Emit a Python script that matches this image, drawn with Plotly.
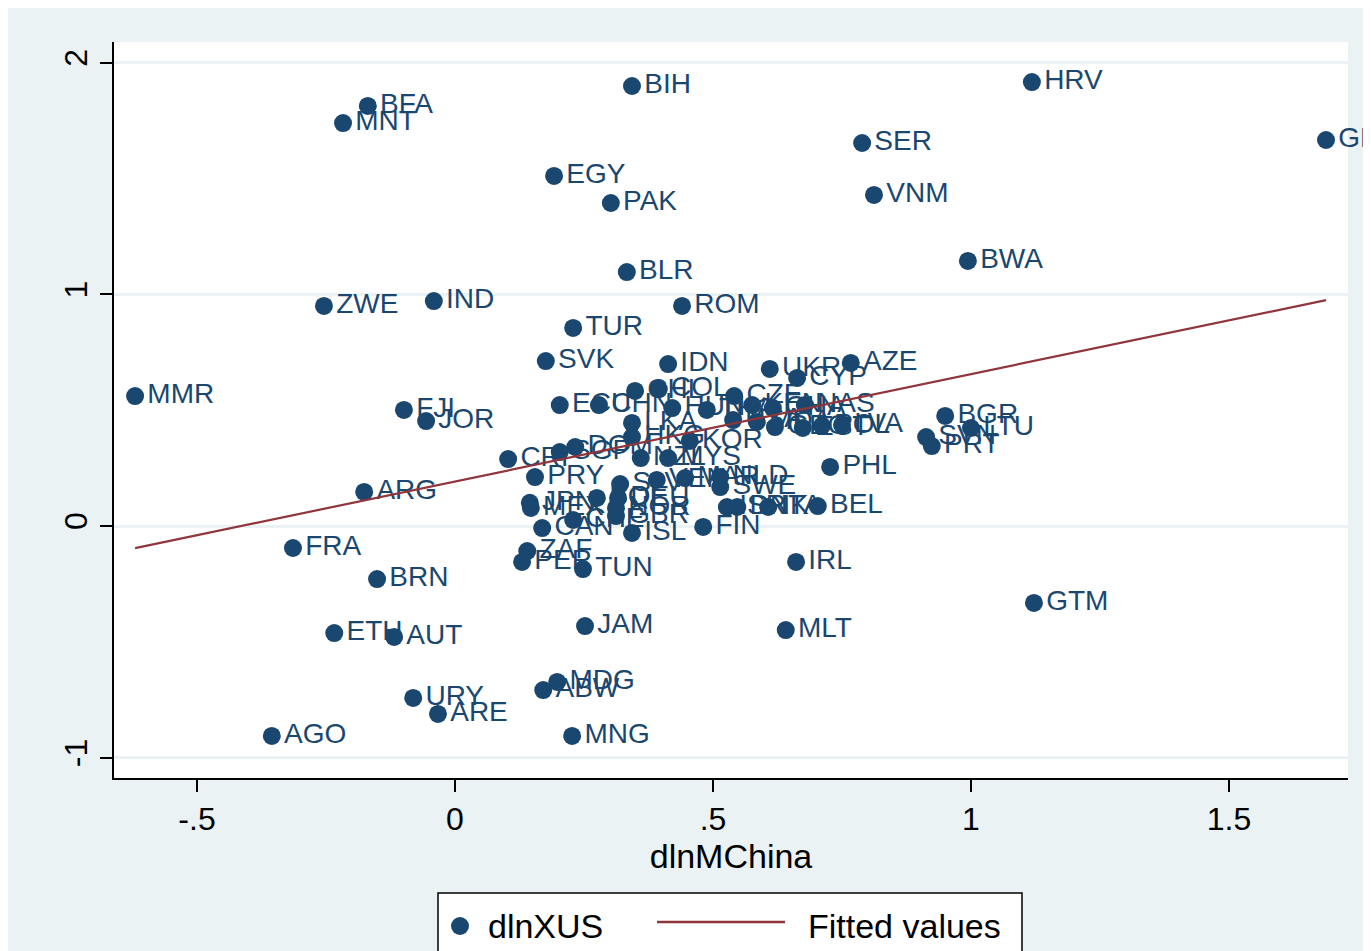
import plotly.graph_objects as go

countries = ["BFA","MNT","BIH","HRV","GRC","SER","EGY","PAK","VNM","BWA",
             "BLR","ZWE","IND","ROM","TUR","SVK","IDN","UKR","AZE","CYP",
             "MMR","FJI","JOR","ECU","CHN","CHL","COL","HUN","THA","CZE",
             "KEN","GHA","NAS","USA","MDA","GEO","EST","POL","LVA","LKA",
             "HKG","KOR","SGP","DOM","CRI","NZL","MYS","PRY","SLV","VEN",
             "MAR","NLD","SWE","JPN","MEX","BOL","DEU","NOR","GBR","CHE",
             "CAN","ISL","FIN","ISR","DNK","ITA","BEL","PHL","BGR","SVN",
             "PRT","LTU","ARG","FRA","BRN","ZAF","PER","TUN","IRL","GTM",
             "JAM","MLT","ETH","AUT","MDG","ABW","URY","ARE","AGO","MNG"]

dlnMChina = [-0.169,-0.217,0.343,1.118,1.688,0.789,0.192,0.302,0.812,0.994,
             0.333,-0.254,-0.041,0.440,0.229,0.176,0.413,0.610,0.767,0.663,
             -0.620,-0.099,-0.056,0.203,0.279,0.349,0.395,0.421,0.488,0.541,
             0.576,0.616,0.678,0.539,0.585,0.620,0.674,0.711,0.750,0.343,
             0.343,0.455,0.203,0.233,0.103,0.360,0.413,0.155,0.320,0.391,
             0.446,0.514,0.514,0.145,0.147,0.275,0.316,0.312,0.312,0.229,
             0.169,0.343,0.481,0.527,0.547,0.607,0.703,0.727,0.950,0.913,
             0.924,1.000,-0.176,-0.314,-0.151,0.140,0.130,0.248,0.661,1.122,
             0.252,0.641,-0.234,-0.118,0.198,0.171,-0.081,-0.033,-0.355,0.227]

dlnXUS = [1.813,1.739,1.899,1.916,1.666,1.653,1.511,1.394,1.429,1.144,
          1.096,0.950,0.971,0.950,0.855,0.712,0.699,0.678,0.704,0.639,
          0.561,0.501,0.453,0.522,0.522,0.583,0.591,0.509,0.501,0.561,
          0.522,0.509,0.522,0.457,0.449,0.427,0.423,0.432,0.436,0.445,
          0.384,0.367,0.319,0.341,0.289,0.293,0.293,0.211,0.181,0.199,
          0.207,0.211,0.168,0.100,0.078,0.121,0.121,0.078,0.043,0.026,
          -0.009,-0.030,-0.004,0.082,0.082,0.082,0.086,0.255,0.475,0.384,
          0.345,0.423,0.147,-0.095,-0.229,-0.108,-0.155,-0.186,-0.155,-0.332,
          -0.432,-0.449,-0.462,-0.479,-0.673,-0.708,-0.742,-0.811,-0.906,-0.906]

fit_intercept = 0.192
fit_slope = 0.4636

x_ticks = [-0.5, 0, 0.5, 1, 1.5]
x_tick_labels = ["-.5", "0", ".5", "1", "1.5"]
y_ticks = [-1, 0, 1, 2]
y_tick_labels = ["-1", "0", "1", "2"]
legend_labels = ["dlnXUS", "Fitted values"]

navy = "#1a476f"
maroon = "#90353b"
bg = "#eaf2f3"
font_family = "Liberation Sans, Arial, sans-serif"

fit_x = [min(dlnMChina), max(dlnMChina)]
fit_y = [fit_intercept + fit_slope * v for v in fit_x]

fig = go.Figure()
fig.add_trace(go.Scatter(
    x=dlnMChina, y=dlnXUS, mode="markers+text", text=countries,
    textposition="middle right",
    textfont=dict(family=font_family, size=28, color=navy),
    marker=dict(size=18, color=navy, line=dict(width=0)),
    name=legend_labels[0], cliponaxis=False, showlegend=False))
fig.add_trace(go.Scatter(
    x=fit_x, y=fit_y, mode="lines",
    line=dict(color=maroon, width=2.2), name=legend_labels[1], showlegend=False))

# page offset (body margin of the html page)
OFF = 8
W, H = 1371 - OFF, 951 - OFF
# plot area in page pixels
PL, PR, PT, PB = 114, 1348, 42, 778
L, T = PL - OFF, PT - OFF
R, B = W - (PR - OFF), H - (PB - OFF)
pw, ph = W - L - R, H - T - B

def px(p):
    return (p - OFF - L) / pw

def py(p):
    return (H - B - (p - OFF)) / ph

shapes = [
    # legend box
    dict(type="rect", xref="paper", yref="paper", layer="above",
         x0=px(438), x1=px(1022), y0=py(965), y1=py(893),
         fillcolor="white", line=dict(color="black", width=1.5)),
    # legend marker
    dict(type="circle", xref="paper", yref="paper", layer="above",
         x0=px(451), x1=px(469), y0=py(935), y1=py(917),
         fillcolor=navy, line=dict(width=0)),
    # legend line
    dict(type="line", xref="paper", yref="paper", layer="above",
         x0=px(657), x1=px(785), y0=py(922), y1=py(922),
         line=dict(color=maroon, width=2.5)),
]

annotations = [
    dict(text=legend_labels[0], xref="paper", yref="paper", x=px(486), y=py(926),
         xanchor="left", yanchor="middle", showarrow=False,
         font=dict(family=font_family, size=34, color="black")),
    dict(text=legend_labels[1], xref="paper", yref="paper", x=px(806), y=py(926),
         xanchor="left", yanchor="middle", showarrow=False,
         font=dict(family=font_family, size=34, color="black")),
]

fig.update_layout(
    width=W, height=H,
    margin=dict(l=L, r=R, t=T, b=B, pad=0),
    paper_bgcolor=bg, plot_bgcolor="white",
    shapes=shapes, annotations=annotations,
    showlegend=False,
    font=dict(family=font_family, color="black"),
)

fig.update_xaxes(
    range=[(PL - 455) / 516, (PR - 455) / 516],
    tickvals=x_ticks, ticktext=x_tick_labels,
    ticks="outside", ticklen=12, tickwidth=1.5, tickcolor="black",
    tickfont=dict(size=32, family=font_family),
    showline=True, linecolor="black", linewidth=1.5,
    showgrid=False, zeroline=False,
    title=dict(text="dlnMChina", font=dict(size=34, family=font_family), standoff=5),
)
fig.update_yaxes(
    range=[(526 - PB) / 231.7, (526 - PT) / 231.7],
    tickvals=y_ticks, ticktext=y_tick_labels, tickangle=-90,
    ticks="outside", ticklen=12, tickwidth=1.5, tickcolor="black",
    tickfont=dict(size=32, family=font_family),
    showline=True, linecolor="black", linewidth=1.5,
    showgrid=True, gridcolor=bg, gridwidth=2.5, zeroline=False,
)

fig.write_html("out.html")
